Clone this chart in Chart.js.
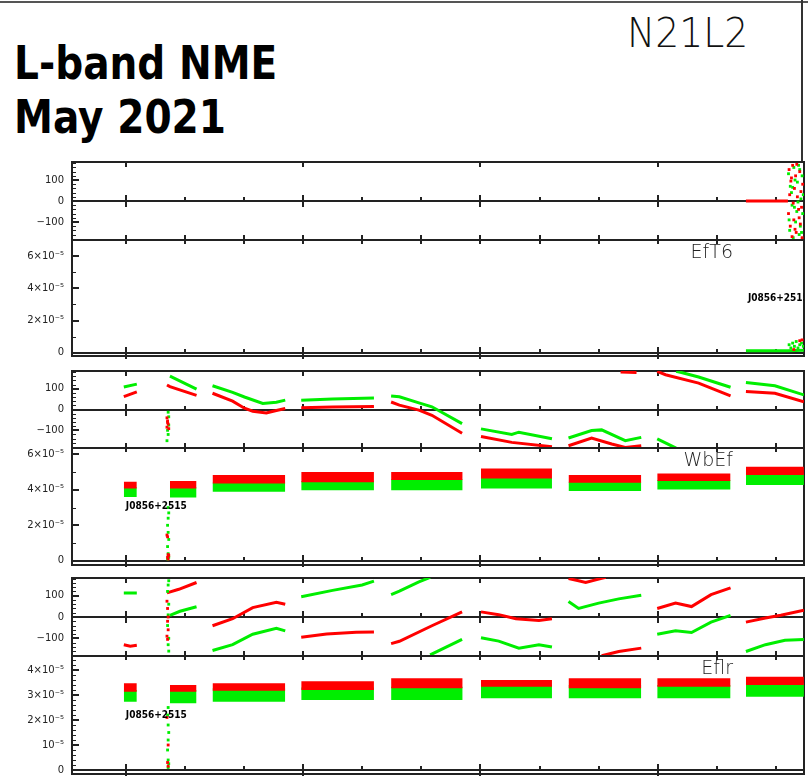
<!DOCTYPE html>
<html lang="en">
<head>
<meta charset="UTF-8">
<title>L-band NME May 2021 - N21L2</title>
<script src="https://cdn.jsdelivr.net/npm/chart.js"></script>
<style>
  body { margin: 0; background: #fff; }
  #page { position: relative; width: 808px; height: 778px; overflow: hidden; background: #fff; }
  #page canvas { position: absolute; left: 0; }
  .title {
    position: absolute; left: 14px;
    font-family: 'DejaVu Sans', sans-serif; font-weight: bold;
    font-size: 46px; line-height: 46px; color: #000;
    transform: scaleX(0.85); transform-origin: left top; white-space: nowrap;
  }
  #exp {
    position: absolute; left: 627px; top: 13px;
    font-family: 'DejaVu Sans', sans-serif; font-weight: 200;
    font-size: 41px; line-height: 41px; color: #111;
    transform: scaleX(0.92); transform-origin: left top;
  }
  #edgeTop { position: absolute; left: 0; top: 1px; width: 808px; height: 2px; background: #555; }
  #edgeRight { position: absolute; left: 801px; top: 0; width: 2px; height: 162px; background: #333; }
</style>
</head>
<body>
<div id="page">
  <div id="edgeTop"></div>
  <div id="edgeRight"></div>
  <div class="title" style="top:40px">L-band NME</div>
  <div class="title" style="top:94px">May 2021</div>
  <div id="exp">N21L2</div>
  <canvas id="p1"></canvas>
  <canvas id="p2"></canvas>
  <canvas id="p3"></canvas>
  <canvas id="p4"></canvas>
  <canvas id="p5"></canvas>
  <canvas id="p6"></canvas>
</div>

<script>
  // x axis (time), ticks every unit, long ticks every third
  const xTicks = [1, 2, 3, 4, 5, 6, 7, 8, 9, 10, 11, 12];
  const xMajorTicks = [1, 4, 7, 10];
  const xMin = 0.094, xMax = 12.472;

  // scan boundaries
  const scanStart = [0.97, 1.75, 2.47, 3.97, 5.49, 7.01, 8.49, 9.99, 11.49];
  const scanEnd   = [1.19, 2.20, 3.70, 5.20, 6.70, 8.21, 9.72, 11.23, 12.47];

  // y tick labels (amplitudes are in units of 1e-5)
  const phaseTicks = [-100, 0, 100];
  const ampTicksWide = [0, 2, 4, 6];
  const ampTicksFine = [0, 1, 2, 3, 4];

  const sourceName = 'J0856+2515';
  const baselines = ['EfT6', 'WbEf', 'Eflr'];

  // ---- EfT6 ----
  const eft6PhaseRed = [[11.49, 0], [12.20, 0]];
  const eft6PhaseRedDots = [[12.22,150],[12.25,95],[12.28,170],[12.31,60],[12.33,120],[12.36,20],[12.40,140],[12.43,-30],
    [12.21,-60],[12.24,-120],[12.27,-170],[12.30,-90],[12.34,-150],[12.38,-40],[12.41,-110],[12.45,80],
    [12.23,30],[12.29,-10],[12.35,175],[12.44,-175],[12.26,110],[12.39,-80],[12.32,-135],[12.42,45]];
  const eft6PhaseGreenDots = [[12.21,130],[12.24,70],[12.27,-20],[12.30,160],[12.33,-100],[12.36,90],[12.39,-160],[12.42,10],
    [12.45,-60],[12.23,-140],[12.26,40],[12.29,-175],[12.32,100],[12.35,-50],[12.38,170],[12.41,-120],
    [12.44,120],[12.22,-90],[12.28,65],[12.31,-30],[12.37,-5],[12.40,150],[12.43,-150],[12.46,30]];
  const eft6AmpGreen = [[11.49, 0.12], [12.20, 0.12], [12.47, 0.15]];
  const eft6AmpGreenDots = [[12.22,0.5],[12.25,0.3],[12.28,0.6],[12.31,0.4],[12.34,0.7],[12.37,0.3],[12.40,0.5],[12.43,0.6],[12.46,0.4]];
  const eft6AmpRedDots = [[12.40,0.75],[12.44,0.8],[12.30,0.2]];

  // ---- WbEf ----
  const wbefPhaseRed = [
    [0.97,62],[1.19,85],[1.19,null],
    [1.70,118],[1.75,110],[2.20,68],[2.20,null],
    [2.47,78],[2.81,40],[3.01,6],[3.15,-8],[3.38,-17],[3.55,-5],[3.70,5],[3.70,null],
    [3.97,8],[4.50,12],[5.20,15],[5.20,null],
    [5.49,36],[5.63,21],[5.96,-3],[6.18,-28],[6.69,-114],[6.69,null],
    [7.01,-130],[7.53,-158],[8.21,-179],[8.21,null],
    [8.49,-174],[8.88,-137],[9.22,-166],[9.45,-182],[9.72,-174],[9.72,null],
    [9.37,180],[9.64,178],[9.64,null],
    [9.99,183],[10.13,167],[10.69,127],[11.23,65],[11.23,null],
    [11.49,86],[11.98,78],[12.47,37]];
  const wbefPhaseGreen = [
    [0.97,108],[1.19,122],[1.19,null],
    [1.75,160],[2.20,98],[2.20,null],
    [2.47,114],[2.81,82],[3.01,60],[3.32,29],[3.55,35],[3.70,45],[3.70,null],
    [3.97,45],[4.50,50],[5.20,55],[5.20,null],
    [5.49,65],[5.63,61],[5.96,32],[6.18,13],[6.69,-68],[6.69,null],
    [7.01,-93],[7.53,-120],[7.65,-109],[8.21,-141],[8.21,null],
    [8.49,-137],[8.88,-101],[9.05,-98],[9.45,-150],[9.72,-134],[9.72,null],
    [9.99,-141],[10.31,-186],[10.31,null],
    [10.31,184],[10.40,178],[10.69,156],[11.23,107],[11.23,null],
    [11.49,130],[11.98,114],[12.47,70]];
  const wbefPhaseRedDots = [[1.70,-40],[1.71,-55],[1.72,-70],[1.70,-85],[1.73,-92],[1.71,-62]];
  const wbefPhaseGreenDots = [[1.72,-13],[1.73,-35],[1.71,-100],[1.72,-120],[1.70,-150],[1.73,-75]];
  const wbefAmpRedLo   = [4.08, 4.08, 4.36, 4.43, 4.55, 4.64, 4.40, 4.50, 4.83];
  const wbefAmpRedHi   = [4.45, 4.50, 4.83, 5.00, 5.01, 5.20, 4.83, 4.92, 5.30];
  const wbefAmpGreenLo = [3.60, 3.57, 3.89, 3.98, 3.98, 4.08, 3.94, 4.02, 4.27];
  const wbefAmpGreenHi = [4.15, 4.15, 4.42, 4.50, 4.60, 4.70, 4.46, 4.56, 4.88];
  const wbefAmpRedDots = [[1.70,1.45],[1.71,1.35],[1.72,0.35],[1.71,0.2],[1.72,0.1],[1.73,0.3]];
  const wbefAmpGreenDots = [[1.72,3.0],[1.73,2.7],[1.72,2.4],[1.71,2.0],[1.72,1.6],[1.73,1.2],[1.71,0.8],[1.72,0.4],[1.73,0.2],[1.71,0.1]];

  // ---- Eflr ----
  const eflrPhaseRed = [
    [0.97,-130],[1.08,-137],[1.19,-133],[1.19,null],
    [1.70,113],[1.90,130],[2.20,162],[2.20,null],
    [2.47,-41],[2.81,-8],[3.15,44],[3.55,69],[3.70,60],[3.70,null],
    [3.97,-95],[4.40,-80],[4.90,-72],[5.20,-70],[5.20,null],
    [5.49,-125],[5.63,-114],[6.18,-41],[6.69,24],[6.69,null],
    [7.01,24],[7.31,11],[7.60,-8],[7.99,-16],[8.21,-8],[8.21,null],
    [8.49,180],[8.66,170],[8.78,162],[9.00,178],[9.12,186],[9.12,null],
    [9.05,-182],[9.34,-162],[9.72,-146],[9.72,null],
    [9.99,40],[10.30,65],[10.57,49],[10.90,105],[11.23,137],[11.23,null],
    [11.49,-24],[11.82,-5],[12.08,8],[12.47,32]];
  const eflrPhaseGreen = [
    [0.97,113],[1.19,113],[1.19,null],
    [1.75,8],[1.92,27],[2.20,48],[2.20,null],
    [2.47,-157],[2.81,-130],[3.15,-81],[3.55,-53],[3.70,-65],[3.70,null],
    [3.97,95],[4.50,125],[5.00,150],[5.20,168],[5.20,null],
    [5.49,105],[5.63,121],[5.96,165],[6.15,186],[6.15,null],
    [6.15,-178],[6.69,-105],[6.69,null],
    [7.01,-97],[7.31,-113],[7.65,-146],[7.99,-130],[8.21,-141],[8.21,null],
    [8.49,73],[8.66,40],[9.00,65],[9.34,85],[9.72,102],[9.72,null],
    [9.99,-81],[10.30,-65],[10.57,-73],[10.90,-24],[11.23,8],[11.23,null],
    [11.49,-162],[11.82,-130],[12.15,-109],[12.47,-105]];
  const eflrPhaseRedDots = [[1.70,74],[1.71,40],[1.72,0],[1.71,-20],[1.72,-60],[1.70,-90],[1.71,-105]];
  const eflrPhaseGreenDots = [[1.72,190],[1.73,170],[1.72,150],[1.71,120],[1.73,60],[1.72,10],[1.71,-40],[1.73,-100],[1.72,-130],[1.73,-160]];
  const eflrAmpRedLo   = [3.13, 3.13, 3.17, 3.20, 3.27, 3.33, 3.27, 3.33, 3.40];
  const eflrAmpRedHi   = [3.47, 3.40, 3.47, 3.55, 3.67, 3.60, 3.67, 3.67, 3.73];
  const eflrAmpGreenLo = [2.73, 2.67, 2.73, 2.80, 2.80, 2.87, 2.87, 2.87, 2.93];
  const eflrAmpGreenHi = [3.20, 3.20, 3.27, 3.30, 3.33, 3.40, 3.40, 3.40, 3.47];
  const eflrAmpRedDots = [[1.70,2.1],[1.72,1.0],[1.71,0.3],[1.72,0.15]];
  const eflrAmpGreenDots = [[1.72,2.5],[1.71,2.2],[1.72,1.8],[1.73,1.5],[1.72,1.2],[1.71,0.8],[1.72,0.4],[1.73,0.25],[1.72,0.1]];

  const RED = '#ff0000', GREEN = '#00ee00', INK = '#222';

  function track(data, color) {
    return { data, borderColor: color, borderWidth: 3, pointRadius: 0, fill: false, spanGaps: false };
  }
  function dots(data, color) {
    return { data, showLine: false, pointRadius: 2, pointStyle: 'rect', pointBackgroundColor: color, pointBorderWidth: 0 };
  }
  // one flat edge per scan, broken between scans
  function scanEdge(values) {
    const pts = [];
    values.forEach((v, i) => {
      if (v == null) return;
      pts.push([scanStart[i], v], [scanEnd[i], v], [scanEnd[i], null]);
    });
    return pts;
  }
  function band(lo, hi, color) {
    return [
      { data: scanEdge(hi), fill: '+1', backgroundColor: color, borderColor: 'transparent', borderWidth: 1, pointRadius: 0, spanGaps: false },
      { data: scanEdge(lo), fill: false, borderColor: 'transparent', borderWidth: 1, pointRadius: 0, spanGaps: false }
    ];
  }
  function range(a, b, step) {
    const out = [];
    for (let v = a; v <= b + 1e-9; v += step) out.push(Math.round(v * 100) / 100);
    return out;
  }
  function ampLabel(v) {
    if (v === 0) return '0';
    if (v === 1) return '10\u207B\u2075';
    return v + '\u00D710\u207B\u2075';
  }

  const framePlugin = {
    id: 'frame',
    beforeDatasetsDraw(chart) {
      const p = chart.options.plugins.frame;
      const { ctx, chartArea: a, scales: { x, y } } = chart;
      const seg = (x1, y1, x2, y2) => { ctx.beginPath(); ctx.moveTo(x1, y1); ctx.lineTo(x2, y2); ctx.stroke(); };
      ctx.save();
      ctx.strokeStyle = INK;
      ctx.lineWidth = 2;
      ctx.strokeRect(a.left, a.top, a.right - a.left, a.bottom - a.top);
      const y0 = Math.round(y.getPixelForValue(0));
      seg(a.left, y0, a.right, y0);
      xTicks.forEach(v => {
        const px = Math.round(x.getPixelForValue(v));
        const major = xMajorTicks.includes(v);
        if (p.kind === 'phase') {
          if (major) seg(px, a.top, px, a.top + 5);
          seg(px, a.bottom - 5, px, a.bottom);
        } else {
          seg(px, a.top, px, a.top + 4);
        }
        if (major) seg(px, y0 - 6, px, y0 + 6);
        else seg(px, y0 - 4, px, y0);
      });
      ctx.lineWidth = 1;
      p.minor.forEach(v => {
        const py = Math.round(y.getPixelForValue(v)) + 0.5;
        seg(a.left, py, a.left + 4, py);
      });
      ctx.lineWidth = 2;
      p.major.forEach(v => {
        const py = Math.round(y.getPixelForValue(v));
        seg(a.left, py, a.left + 7, py);
      });
      ctx.restore();
    },
    afterDatasetsDraw(chart) {
      const p = chart.options.plugins.frame;
      if (!p.baseline) return;
      const { ctx, chartArea: a, scales: { x } } = chart;
      ctx.save();
      ctx.beginPath();
      ctx.rect(0, 0, a.right, chart.height);
      ctx.clip();
      ctx.fillStyle = INK;
      ctx.font = "200 19px 'DejaVu Sans'";
      ctx.textAlign = 'right';
      ctx.textBaseline = 'middle';
      ctx.fillText(p.baseline, a.right - 71, a.top + 13);
      ctx.font = "bold 10px 'DejaVu Sans Condensed', 'DejaVu Sans'";
      ctx.textAlign = 'left';
      ctx.fillStyle = '#000';
      ctx.fillText(sourceName, x.getPixelForValue(p.sourceAt) + 2, (a.top + a.bottom) / 2);
      ctx.restore();
    }
  };

  const panels = [
    { id: 'p1', top: 162, bottom: 240, kind: 'phase', min: -186, max: 186, major: phaseTicks, minor: range(-180, 180, 20),
      datasets: [dots(eft6PhaseRedDots, RED), dots(eft6PhaseGreenDots, GREEN), track(eft6PhaseRed, RED)] },
    { id: 'p2', top: 240, bottom: 356, kind: 'amp', min: -0.2, max: 7.0, major: ampTicksWide, minor: range(1, 5, 2),
      baseline: baselines[0], sourceAt: 11.49,
      datasets: [dots(eft6AmpRedDots, RED), dots(eft6AmpGreenDots, GREEN), track(eft6AmpGreen, GREEN)] },
    { id: 'p3', top: 371, bottom: 448, kind: 'phase', min: -185, max: 185, major: phaseTicks, minor: range(-180, 180, 20),
      datasets: [dots(wbefPhaseRedDots, RED), dots(wbefPhaseGreenDots, GREEN), track(wbefPhaseRed, RED), track(wbefPhaseGreen, GREEN)] },
    { id: 'p4', top: 448, bottom: 565, kind: 'amp', min: -0.24, max: 6.36, major: ampTicksWide, minor: range(1, 5, 2),
      baseline: baselines[1], sourceAt: scanStart[0],
      datasets: [dots(wbefAmpRedDots, RED), dots(wbefAmpGreenDots, GREEN),
        ...band(wbefAmpRedLo, wbefAmpRedHi, RED), ...band(wbefAmpGreenLo, wbefAmpGreenHi, GREEN)] },
    { id: 'p5', top: 578, bottom: 656, kind: 'phase', min: -183, max: 183, major: phaseTicks, minor: range(-180, 180, 20),
      datasets: [dots(eflrPhaseRedDots, RED), dots(eflrPhaseGreenDots, GREEN), track(eflrPhaseRed, RED), track(eflrPhaseGreen, GREEN)] },
    { id: 'p6', top: 656, bottom: 774, kind: 'amp', min: -0.16, max: 4.56, major: ampTicksFine, minor: range(0.2, 4.4, 0.2),
      baseline: baselines[2], sourceAt: scanStart[0],
      datasets: [dots(eflrAmpRedDots, RED), dots(eflrAmpGreenDots, GREEN),
        ...band(eflrAmpRedLo, eflrAmpRedHi, RED), ...band(eflrAmpGreenLo, eflrAmpGreenHi, GREEN)] }
  ];

  const PAD = 10;
  panels.forEach(p => {
    const cv = document.getElementById(p.id);
    cv.width = 808;
    cv.height = p.bottom - p.top + 2 * PAD;
    cv.style.top = (p.top - PAD) + 'px';
    new Chart(cv, {
      type: 'line',
      data: { datasets: p.datasets },
      plugins: [framePlugin],
      options: {
        responsive: false,
        animation: false,
        devicePixelRatio: 1,
        layout: { padding: { top: PAD, bottom: PAD, left: 0, right: 2 } },
        plugins: {
          legend: { display: false },
          tooltip: { enabled: false },
          frame: { kind: p.kind, major: p.major, minor: p.minor.filter(v => !p.major.includes(v)), baseline: p.baseline, sourceAt: p.sourceAt }
        },
        scales: {
          x: { type: 'linear', min: xMin, max: xMax, display: false },
          y: {
            type: 'linear', position: 'left', min: p.min, max: p.max,
            grid: { display: false, drawTicks: false },
            border: { display: false },
            afterBuildTicks: s => { s.ticks = p.major.map(v => ({ value: v })); },
            afterFit: s => { s.width = 72; s.paddingTop = 0; s.paddingBottom = 0; },
            ticks: {
              padding: 8,
              color: INK,
              font: { family: 'DejaVu Sans', size: 10 },
              callback: v => p.kind === 'phase' ? String(v).replace('-', '\u2212') : ampLabel(v)
            }
          }
        }
      }
    });
  });
</script>
</body>
</html>
